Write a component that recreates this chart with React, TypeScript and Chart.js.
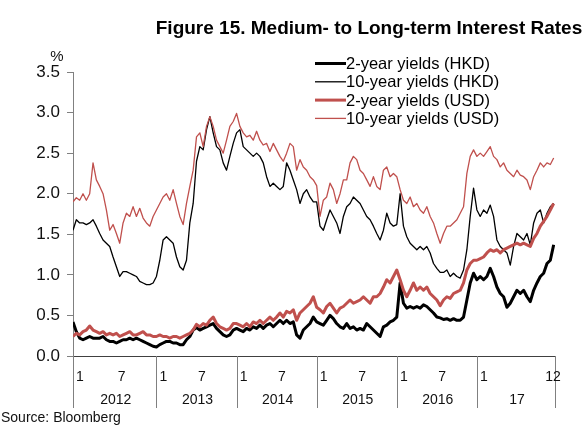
import React, { useEffect, useRef } from "react";
import { Chart, registerables } from "chart.js";

Chart.register(...registerables);

// x positions: months since Jan 2012, half-month steps (first point mid-Dec 2011)
const periods: number[] = Array.from({ length: 145 }, (_, i) => -0.5 + i * 0.5);

const yearStarts = [0, 12, 24, 36, 48, 60];
const yearLabels = ["2012", "2013", "2014", "2015", "2016", "17"];
const monthLabelsFull = ["1", "7"];
const lastYearMonthLabels = ["1", "12"];
const yTicks = [0, 0.5, 1.0, 1.5, 2.0, 2.5, 3.0, 3.5];

const seriesNames = [
  "2-year yields (HKD)",
  "10-year yields (HKD)",
  "2-year yields (USD)",
  "10-year yields (USD)",
];

const hk2 = [0.42,
  0.30, 0.22, 0.20, 0.22, 0.24, 0.22, 0.22, 0.22, 0.24, 0.20, 0.18, 0.18, 0.16, 0.18, 0.20, 0.20, 0.22, 0.20, 0.22, 0.20, 0.18, 0.16, 0.14, 0.12,
  0.11, 0.14, 0.16, 0.18, 0.18, 0.16, 0.16, 0.14, 0.14, 0.20, 0.24, 0.32, 0.35, 0.32, 0.34, 0.36, 0.38, 0.40, 0.34, 0.30, 0.26, 0.24, 0.26, 0.32,
  0.34, 0.32, 0.30, 0.34, 0.32, 0.36, 0.34, 0.38, 0.34, 0.38, 0.40, 0.36, 0.40, 0.44, 0.40, 0.44, 0.40, 0.42, 0.26, 0.22, 0.32, 0.36, 0.40, 0.48,
  0.42, 0.40, 0.38, 0.44, 0.50, 0.46, 0.40, 0.36, 0.34, 0.40, 0.34, 0.36, 0.32, 0.34, 0.32, 0.40, 0.36, 0.32, 0.28, 0.24, 0.36, 0.38, 0.42, 0.44,
  0.48, 0.90, 0.65, 0.59, 0.61, 0.59, 0.61, 0.59, 0.63, 0.61, 0.57, 0.53, 0.48, 0.47, 0.45, 0.46, 0.44, 0.46, 0.44, 0.44, 0.48, 0.69, 0.90, 1.02,
  0.94, 0.98, 0.94, 0.98, 1.08, 0.98, 0.85, 0.77, 0.73, 0.60, 0.65, 0.73, 0.81, 0.77, 0.81, 0.73, 0.67, 0.81, 0.90, 0.98, 1.02, 1.14, 1.18, 1.37];

const hk10 = [1.55,
  1.68, 1.64, 1.64, 1.62, 1.64, 1.68, 1.60, 1.51, 1.43, 1.39, 1.35, 1.22, 1.10, 0.98, 1.04, 1.04, 1.02, 1.00, 0.98, 0.92, 0.90, 0.88, 0.88, 0.90,
  0.98, 1.18, 1.43, 1.47, 1.43, 1.39, 1.22, 1.10, 1.06, 1.18, 1.64, 1.88, 2.40, 2.58, 2.54, 2.79, 2.95, 2.75, 2.58, 2.54, 2.38, 2.29, 2.46, 2.62,
  2.75, 2.79, 2.58, 2.54, 2.50, 2.46, 2.50, 2.46, 2.38, 2.21, 2.09, 2.13, 2.09, 2.05, 2.09, 2.38, 2.29, 2.17, 2.05, 1.88, 2.00, 2.05, 1.96, 1.90,
  1.90, 1.60, 1.55, 1.68, 1.80, 1.72, 1.64, 1.51, 1.72, 1.84, 1.88, 1.96, 1.92, 1.88, 1.80, 1.72, 1.68, 1.60, 1.51, 1.43, 1.55, 1.76, 1.64, 1.60,
  1.62, 2.00, 1.60, 1.47, 1.39, 1.35, 1.31, 1.35, 1.31, 1.35, 1.27, 1.14, 1.08, 1.03, 1.03, 1.06, 0.98, 1.02, 0.98, 0.96, 1.06, 1.31, 1.72, 2.07,
  1.80, 1.72, 1.80, 1.76, 1.86, 1.72, 1.43, 1.35, 1.31, 1.27, 1.12, 1.35, 1.51, 1.47, 1.43, 1.51, 1.37, 1.64, 1.76, 1.80, 1.64, 1.76, 1.84, 1.88];

const us2 = [0.24,
  0.28, 0.26, 0.30, 0.32, 0.37, 0.32, 0.30, 0.28, 0.30, 0.26, 0.28, 0.26, 0.28, 0.24, 0.26, 0.28, 0.30, 0.26, 0.26, 0.28, 0.30, 0.26, 0.26, 0.24,
  0.24, 0.26, 0.24, 0.24, 0.22, 0.24, 0.24, 0.22, 0.24, 0.26, 0.28, 0.32, 0.39, 0.36, 0.40, 0.38, 0.44, 0.48, 0.40, 0.36, 0.34, 0.32, 0.34, 0.40,
  0.40, 0.38, 0.36, 0.40, 0.36, 0.42, 0.40, 0.44, 0.40, 0.44, 0.48, 0.44, 0.48, 0.53, 0.48, 0.55, 0.53, 0.57, 0.44, 0.53, 0.57, 0.61, 0.65, 0.73,
  0.60, 0.57, 0.53, 0.61, 0.65, 0.59, 0.53, 0.59, 0.61, 0.65, 0.69, 0.65, 0.67, 0.69, 0.73, 0.69, 0.65, 0.73, 0.73, 0.77, 0.85, 0.94, 0.90, 0.98,
  1.06, 0.94, 0.81, 0.73, 0.81, 0.90, 0.81, 0.85, 0.81, 0.85, 0.77, 0.73, 0.69, 0.62, 0.69, 0.73, 0.71, 0.77, 0.79, 0.81, 0.90, 1.06, 1.14, 1.18,
  1.18, 1.20, 1.22, 1.27, 1.31, 1.29, 1.31, 1.27, 1.31, 1.33, 1.35, 1.37, 1.39, 1.37, 1.39, 1.37, 1.35, 1.45, 1.51, 1.60, 1.66, 1.72, 1.80, 1.88];

const us10 = [1.90,
  1.95, 1.92, 2.00, 1.92, 2.00, 2.38, 2.17, 2.09, 2.00, 1.80, 1.55, 1.62, 1.51, 1.39, 1.64, 1.76, 1.72, 1.84, 1.72, 1.82, 1.70, 1.64, 1.60, 1.72,
  1.80, 1.88, 1.96, 2.00, 1.92, 2.05, 1.88, 1.72, 1.62, 1.88, 2.09, 2.29, 2.70, 2.75, 2.58, 2.83, 2.95, 2.83, 2.66, 2.58, 2.50, 2.66, 2.83, 2.89,
  2.99, 2.83, 2.75, 2.70, 2.72, 2.66, 2.77, 2.66, 2.60, 2.62, 2.52, 2.62, 2.54, 2.46, 2.40, 2.50, 2.62, 2.58, 2.29, 2.42, 2.33, 2.29, 2.21, 2.17,
  2.10, 1.72, 1.92, 1.96, 2.13, 2.05, 1.88, 2.00, 2.17, 2.17, 2.38, 2.46, 2.42, 2.29, 2.25, 2.17, 2.09, 2.21, 2.09, 2.05, 2.29, 2.33, 2.21, 2.25,
  2.21, 2.05, 1.92, 1.88, 1.96, 1.84, 1.88, 1.80, 1.76, 1.84, 1.72, 1.64, 1.51, 1.39, 1.51, 1.60, 1.60, 1.64, 1.68, 1.76, 1.84, 2.25, 2.46, 2.54,
  2.46, 2.50, 2.46, 2.52, 2.58, 2.46, 2.42, 2.33, 2.38, 2.29, 2.25, 2.21, 2.29, 2.23, 2.21, 2.17, 2.05, 2.21, 2.29, 2.38, 2.33, 2.38, 2.36, 2.44];

const FONT = '"Liberation Sans", Arial, Helvetica, sans-serif';
const RED = "#C0504D";

const toPoints = (vals: number[]) => vals.map((v, i) => ({ x: periods[i], y: v }));

const decorPlugin = {
  id: "decor",
  afterDraw(chart: any) {
    const { ctx, chartArea } = chart;
    const { left, right, bottom } = chartArea;
    const xs = chart.scales.x;
    ctx.save();

    // x axis line
    ctx.strokeStyle = "#404040";
    ctx.lineWidth = 1;
    ctx.beginPath();
    ctx.moveTo(left, Math.round(bottom) + 0.5);
    ctx.lineTo(right, Math.round(bottom) + 0.5);
    ctx.stroke();

    // year separators
    const sepBottom = 408;
    const seps = yearStarts.map((v, i) => (i === 0 ? left : xs.getPixelForValue(v)));
    const allSeps = [...seps, right];
    ctx.strokeStyle = "#808080";
    allSeps.forEach((sx) => {
      const px = Math.round(sx) + 0.5;
      ctx.beginPath();
      ctx.moveTo(px, bottom);
      ctx.lineTo(px, sepBottom);
      ctx.stroke();
    });

    // month labels
    ctx.fillStyle = "#111";
    ctx.font = `14px ${FONT}`;
    ctx.textBaseline = "middle";
    ctx.textAlign = "center";
    yearStarts.forEach((ys, i) => {
      const isLast = i === yearStarts.length - 1;
      const labels = isLast ? lastYearMonthLabels : monthLabelsFull;
      ctx.fillText(labels[0], seps[i] + 7, 377);
      if (isLast) {
        ctx.fillText(labels[1], right - 2, 377);
      } else {
        ctx.fillText(labels[1], xs.getPixelForValue(ys + 6.8), 377);
      }
    });

    // year labels
    yearLabels.forEach((t, i) => {
      const cx = (allSeps[i] + allSeps[i + 1]) / 2 + 1;
      ctx.fillText(t, cx, 400);
    });

    // % unit
    ctx.font = `15px ${FONT}`;
    ctx.fillText("%", 57, 57);

    // title
    ctx.font = `bold 19px ${FONT}`;
    ctx.fillStyle = "#000";
    ctx.fillText("Figure 15. Medium- to Long-term Interest Rates", 369, 29);

    // source
    ctx.font = `14px ${FONT}`;
    ctx.textAlign = "left";
    ctx.fillStyle = "#111";
    ctx.fillText("Source: Bloomberg", 1, 418);

    // legend
    ctx.font = `16.5px ${FONT}`;
    chart.data.datasets.forEach((ds: any, i: number) => {
      const ly = 63.5 + i * 18.3;
      ctx.strokeStyle = ds.borderColor;
      ctx.lineWidth = ds.borderWidth;
      ctx.beginPath();
      ctx.moveTo(315, ly);
      ctx.lineTo(346, ly);
      ctx.stroke();
      ctx.fillStyle = "#000";
      ctx.fillText(ds.label, 346, ly + 1);
    });

    ctx.restore();
  },
};

export default function App() {
  const ref = useRef<HTMLCanvasElement | null>(null);

  useEffect(() => {
    if (!ref.current) return;
    const chart = new Chart(ref.current, {
      type: "line",
      data: {
        datasets: [
          { label: seriesNames[0], data: toPoints(hk2), borderColor: "#000000", borderWidth: 3, order: 3 },
          { label: seriesNames[1], data: toPoints(hk10), borderColor: "#000000", borderWidth: 1.3, order: 2 },
          { label: seriesNames[2], data: toPoints(us2), borderColor: RED, borderWidth: 3, order: 1 },
          { label: seriesNames[3], data: toPoints(us10), borderColor: RED, borderWidth: 1.3, order: 0 },
        ].map((d) => ({ ...d, pointRadius: 0, fill: false, tension: 0, borderJoinStyle: "round" as const })),
      },
      options: {
        responsive: false,
        animation: false,
        events: [],
        layout: { padding: { left: 0, top: 72, right: 27, bottom: 71 } },
        plugins: {
          legend: { display: false },
          tooltip: { enabled: false },
          title: { display: false },
        },
        scales: {
          x: { type: "linear", min: -0.5, max: 71.7, display: false },
          y: {
            min: 0,
            max: 3.5,
            afterBuildTicks: (s: any) => {
              s.ticks = yTicks.map((v) => ({ value: v }));
            },
            afterFit: (s: any) => {
              s.width = 73;
            },
            ticks: {
              callback: (v: any) => Number(v).toFixed(1),
              font: { family: FONT, size: 17 },
              color: "#111",
              padding: 7,
            },
            grid: { drawOnChartArea: false, tickLength: 6, color: "#808080" },
            border: { color: "#808080" },
          },
        },
      },
      plugins: [decorPlugin],
    });
    return () => chart.destroy();
  }, []);

  return (
    <div style={{ position: "absolute", left: 0, top: 0, width: 582, height: 427, background: "#fff" }}>
      <canvas ref={ref} width={582} height={427} />
    </div>
  );
}
